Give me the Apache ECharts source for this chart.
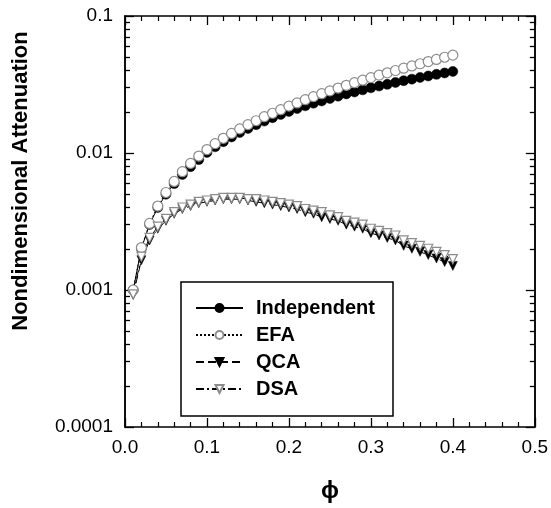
<!DOCTYPE html>
<html>
<head>
<meta charset="utf-8">
<script src="https://cdn.jsdelivr.net/npm/echarts@6/dist/echarts.min.js"></script>
<style>
html,body{margin:0;padding:0;background:#fff;}
#chart{width:551px;height:508px;}
</style>
</head>
<body>
<div id="chart"></div>
<script>
// ---- data ----
var phi = [0.01,0.02,0.03,0.04,0.05,0.06,0.07,0.08,0.09,0.10,
           0.11,0.12,0.13,0.14,0.15,0.16,0.17,0.18,0.19,0.20,
           0.21,0.22,0.23,0.24,0.25,0.26,0.27,0.28,0.29,0.30,
           0.31,0.32,0.33,0.34,0.35,0.36,0.37,0.38,0.39,0.40];
var independent = [0.00100,0.00201,0.00301,0.00400,0.00500,0.00598,0.00697,0.00795,0.00895,0.0101,
                   0.0111,0.0121,0.0131,0.0141,0.0151,0.0161,0.0171,0.0181,0.0191,0.0201,
                   0.0211,0.0221,0.0231,0.0240,0.0250,0.0260,0.0270,0.0279,0.0289,0.0299,
                   0.0308,0.0317,0.0327,0.0337,0.0346,0.0356,0.0365,0.0375,0.0384,0.0394];
var efa = [0.00100,0.00204,0.00306,0.00410,0.00515,0.0062,0.0073,0.0084,0.0095,0.0106,
           0.0117,0.0128,0.0139,0.0150,0.0161,0.0172,0.0184,0.0195,0.0207,0.0220,
           0.0232,0.0245,0.0258,0.0271,0.0284,0.0298,0.0312,0.0326,0.0340,0.0355,
           0.0370,0.0385,0.0400,0.0416,0.0432,0.0448,0.0465,0.0482,0.0500,0.0518];
var qca = [0.00092,0.00165,0.0023,0.0028,0.0032,0.0036,0.0039,0.0041,0.0043,0.0044,
           0.0045,0.0046,0.0046,0.0046,0.0045,0.0044,0.0043,0.0042,0.0041,0.0040,
           0.0039,0.0037,0.0036,0.0034,0.0033,0.0032,0.0030,0.0029,0.0028,0.0026,
           0.0025,0.0024,0.0023,0.0021,0.0020,0.0019,0.0018,0.0017,0.0016,0.00150];
var dsa = [0.00093,0.00175,0.0024,0.0029,0.0033,0.0037,0.0040,0.0042,0.0044,0.0045,
           0.0046,0.0047,0.0047,0.0047,0.0046,0.0046,0.0045,0.0044,0.0043,0.0042,
           0.0041,0.0039,0.0038,0.0037,0.0035,0.0034,0.0032,0.0031,0.0030,0.0028,
           0.0027,0.0026,0.0025,0.0023,0.0022,0.0021,0.0020,0.0019,0.0018,0.00168];
var seriesNames = ['Independent','EFA','QCA','DSA'];
var yMajorTicks = [0.0001,0.001,0.01,0.1];
var yMinorTicks = [0.0002,0.0003,0.0004,0.0005,0.0006,0.0007,0.0008,0.0009,
                   0.002,0.003,0.004,0.005,0.006,0.007,0.008,0.009,
                   0.02,0.03,0.04,0.05,0.06,0.07,0.08,0.09];
var xTitle = '\u03D5';
var yTitle = 'Nondimensional Attenuation';

function pairs(ys){ return phi.map(function(x,i){ return [x, ys[i]]; }); }

var FONT = '"Liberation Sans", Arial, Helvetica, sans-serif';
var chart = echarts.init(document.getElementById('chart'), null, {renderer:'canvas'});

function xAx(pos, labels){
  return {
    type:'value', position:pos, min:0, max:0.5, interval:0.1,
    axisLine:{show:true, onZero:false, lineStyle:{color:'#000', width:1.5}},
    axisTick:{show:true, inside:true, length:9, lineStyle:{color:'#000', width:1.3}},
    minorTick:{show:true, splitNumber:5, length:5, lineStyle:{color:'#000', width:1.2}},
    splitLine:{show:false}, minorSplitLine:{show:false},
    axisLabel:{show:labels, margin:11, color:'#000', fontSize:19, fontFamily:FONT,
               formatter:function(v){ return v.toFixed(1); }},
    name: labels ? xTitle : '', nameLocation:'middle', nameGap:52,
    nameTextStyle:{color:'#000', fontSize:24, fontWeight:'bold', fontFamily:FONT}
  };
}
function yAx(pos, ticks, len, labels){
  return {
    type:'log', logBase:10, position:pos, min:0.0001, max:0.1,
    axisLine:{show:true, onZero:false, lineStyle:{color:'#000', width:1.5}},
    axisTick:{show:true, inside:true, length:len, customValues:ticks, lineStyle:{color:'#000', width:1.3}},
    splitLine:{show:false},
    axisLabel:{show:labels, margin:12, color:'#000', fontSize:19, fontFamily:FONT,
               customValues: labels ? yMajorTicks : undefined,
               formatter:function(v){ return String(Number(Number(v).toPrecision(1))); }}
  };
}

var option = {
  backgroundColor:'#fff',
  animation:false,
  grid:{left:125, top:16, right:15, bottom:78, containLabel:false},
  xAxis:[ xAx('bottom', true), xAx('top', false) ],
  yAxis:[ yAx('left', yMajorTicks, 9, true), yAx('left', yMinorTicks, 5, false),
          yAx('right', yMajorTicks, 9, false), yAx('right', yMinorTicks, 5, false) ],
  legend:{
    orient:'vertical', left:195, top:298, padding:0,
    itemWidth:47, itemHeight:10, itemGap:7,
    data:seriesNames,
    textStyle:{color:'#000', fontSize:20, fontWeight:'bold', fontFamily:FONT, lineHeight:20, padding:[0,0,0,8]}
  },
  graphic:[
    {type:'rect', shape:{x:181, y:282, width:212, height:134},
     style:{fill:'transparent', stroke:'#000', lineWidth:1.5}, z:10},
    {type:'text', x:21, y:181, rotation:Math.PI/2,
     style:{text:yTitle, fill:'#000', font:'bold 22px ' + FONT, align:'center', verticalAlign:'middle'}}
  ],
  series:[
    {name:'Independent', type:'line', data:pairs(independent), symbol:'circle', symbolSize:10,
     lineStyle:{color:'#000', width:1, type:'solid'},
     itemStyle:{color:'#000', borderColor:'#000', borderWidth:0.5}, z:2},
    {name:'EFA', type:'line', data:pairs(efa), symbol:'circle', symbolSize:10,
     lineStyle:{color:'#000', width:1, type:[2,2]},
     itemStyle:{color:'#fff', borderColor:'#8c8c8c', borderWidth:1.2}, z:3},
    {name:'QCA', type:'line', data:pairs(qca), symbol:'triangle', symbolRotate:180, symbolSize:9,
     lineStyle:{color:'#000', width:1, type:[8,4]},
     itemStyle:{color:'#000', borderColor:'#000', borderWidth:0.5}, z:2},
    {name:'DSA', type:'line', data:pairs(dsa), symbol:'triangle', symbolRotate:180, symbolSize:9,
     lineStyle:{color:'#000', width:1, type:[8,3,2,3]},
     itemStyle:{color:'#fff', borderColor:'#8c8c8c', borderWidth:1.2}, z:3}
  ]
};
chart.setOption(option);
</script>
</body>
</html>
